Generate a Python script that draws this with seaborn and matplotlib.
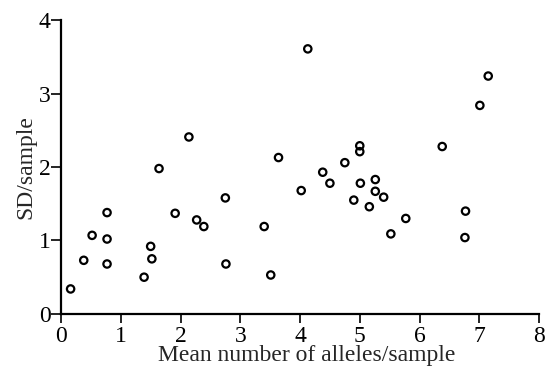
import matplotlib
matplotlib.use("Agg")
import matplotlib.pyplot as plt
import seaborn as sns
import pandas as pd

mean_alleles = [0.16, 0.38, 0.52, 0.77, 0.77, 0.77, 1.39, 1.50, 1.52, 1.64,
                1.91, 2.14, 2.27, 2.39, 2.75, 2.76, 3.40, 3.51, 3.64,
                4.02, 4.13, 4.38, 4.50, 4.75, 4.90, 5.00, 5.00, 5.01, 5.16,
                5.26, 5.26, 5.40, 5.52, 5.77, 6.38, 6.76, 6.77, 7.01, 7.15]
sd_sample = [0.34, 0.73, 1.07, 1.38, 1.02, 0.68, 0.50, 0.92, 0.75, 1.98,
             1.37, 2.41, 1.28, 1.19, 1.58, 0.68, 1.19, 0.53, 2.13,
             1.68, 3.61, 1.93, 1.78, 2.06, 1.55, 2.29, 2.21, 1.78, 1.46,
             1.83, 1.67, 1.59, 1.09, 1.30, 2.28, 1.04, 1.40, 2.84, 3.24]
x_ticks = [0, 1, 2, 3, 4, 5, 6, 7, 8]
y_ticks = [0, 1, 2, 3, 4]

df = pd.DataFrame({"x": mean_alleles, "y": sd_sample})

sns.set_style("ticks")
plt.rcParams["font.family"] = ["Liberation Serif", "DejaVu Serif"]

fig = plt.figure(figsize=(5.45, 3.68), dpi=100)
ax = fig.add_axes([0.112, 0.147, 0.877, 0.798])
sns.scatterplot(data=df, x="x", y="y", ax=ax, marker="o", s=28,
                facecolor="none", edgecolor="black", linewidth=1.6)
ax.set_xlim(0, 8)
ax.set_ylim(0, 4)
ax.set_xticks(x_ticks)
ax.set_yticks(y_ticks)
ax.tick_params(axis="both", direction="out", width=1.2,
               labelsize=17, color="black", labelcolor="black")
ax.tick_params(axis="x", length=6.5, pad=2.5)
ax.tick_params(axis="y", length=7, pad=0.5)
for s in ["top", "right"]:
    ax.spines[s].set_visible(False)
for s in ["left", "bottom"]:
    ax.spines[s].set_linewidth(1.6)
    ax.spines[s].set_color("black")
ax.set_xlabel("Mean number of alleles/sample", fontsize=17, labelpad=2)
ax.xaxis.set_label_coords(0.513, -0.107)
ax.set_ylabel("SD/sample", fontsize=17, labelpad=2)
fig.savefig("out.png", dpi=100)
